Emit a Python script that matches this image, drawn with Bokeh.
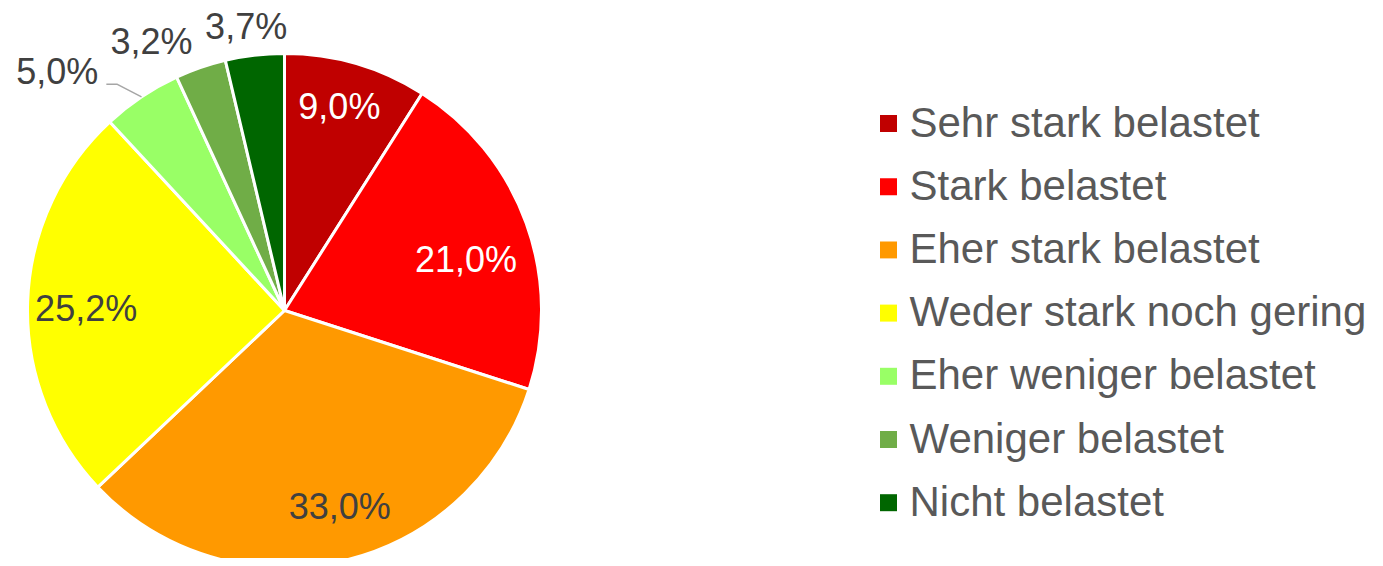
import numpy as np
from bokeh.plotting import figure
from bokeh.models import Range1d, ColumnDataSource
from bokeh.core.properties import value
from bokeh.embed import file_html
from bokeh.resources import INLINE

# ---- data ----
categories = ["Sehr stark belastet", "Stark belastet", "Eher stark belastet",
              "Weder stark noch gering", "Eher weniger belastet",
              "Weniger belastet", "Nicht belastet"]
shares = [9.0, 21.0, 33.0, 25.2, 5.0, 3.2, 3.7]
colors = ["#C00000", "#FF0000", "#FF9900", "#FFFF00", "#99FF66", "#70AD47", "#006600"]
label_colors = ["#FFFFFF", "#FFFFFF", "#404040", "#404040", "#404040", "#404040", "#404040"]
outside = [False, False, False, False, True, True, True]

# ---- layout (screen pixels) ----
W, H = 1375, 558
FONT = value("Liberation Sans")


def sy(y):
    return H - y


CX, CY, R = 284, sy(310), 257
# small per-label nudges (screen px, dx right, dy down)
LABEL_SHIFT = [(-1, -11), (-7, 17), (11, 0), (2, 5), (-67, 0), (-39, 3), (-5, 2)]

p = figure(width=W, height=H, x_range=Range1d(0, W), y_range=Range1d(0, H),
           output_backend="svg", toolbar_location=None,
           x_axis_location=None, y_axis_location=None, min_border=0)
p.grid.visible = False
p.outline_line_color = None
p.background_fill_color = "white"
p.border_fill_color = "white"

vals = np.array(shares)
total = vals.sum()
cum = np.concatenate([[0.0], np.cumsum(vals)])
start = np.pi / 2 - cum[:-1] / total * 2 * np.pi
end = np.pi / 2 - cum[1:] / total * 2 * np.pi
mid = (start + end) / 2

src = ColumnDataSource(dict(start=start, end=end, color=colors, cat=categories))
p.wedge(x=CX, y=CY, radius=R, start_angle="start", end_angle="end",
        direction="clock", fill_color="color", line_color="white",
        line_width=3, source=src)

# data labels
lx, ly, ltxt = [], [], []
for i, v in enumerate(shares):
    rf = 1.12 if outside[i] else 0.78
    x = CX + rf * R * np.cos(mid[i]) + LABEL_SHIFT[i][0]
    y = CY + rf * R * np.sin(mid[i]) - LABEL_SHIFT[i][1]
    lx.append(x)
    ly.append(y)
    ltxt.append(f"{v:.1f}".replace(".", ",") + "%")
lsrc = ColumnDataSource(dict(x=lx, y=ly, t=ltxt, c=label_colors))
p.text(x="x", y="y", text="t", text_color="c", text_align="center",
       text_baseline="middle", text_font=FONT, text_font_size="36px",
       source=lsrc)

# leader line for the 5,0% label
i5 = 4
ex = CX + R * np.cos(mid[i5])
ey = CY + R * np.sin(mid[i5])
lcx, lcy = lx[i5], ly[i5]
p.line(x=[ex, lcx + 60, lcx + 49], y=[ey, lcy - 13, lcy - 13],
       line_color="#A6A6A6", line_width=1.5)

# legend
LEG_SQ_X, LEG_TXT_X, LEG_Y0, LEG_DY = 888, 909, 123, 63.2
gy = [sy(LEG_Y0 + k * LEG_DY) for k in range(len(categories))]
gsrc = ColumnDataSource(dict(x=[LEG_SQ_X] * len(categories), y=gy,
                             ty=[g + 1.5 for g in gy],
                             tx=[LEG_TXT_X] * len(categories),
                             c=colors, t=categories))
p.scatter(x="x", y="y", marker="square", size=17, fill_color="c",
          line_color=None, source=gsrc)
p.text(x="tx", y="ty", text="t", text_color="#595959", text_align="left",
       text_baseline="middle", text_font=FONT, text_font_size="42px",
       source=gsrc)

open("out.html", "w").write(file_html(p, INLINE))
